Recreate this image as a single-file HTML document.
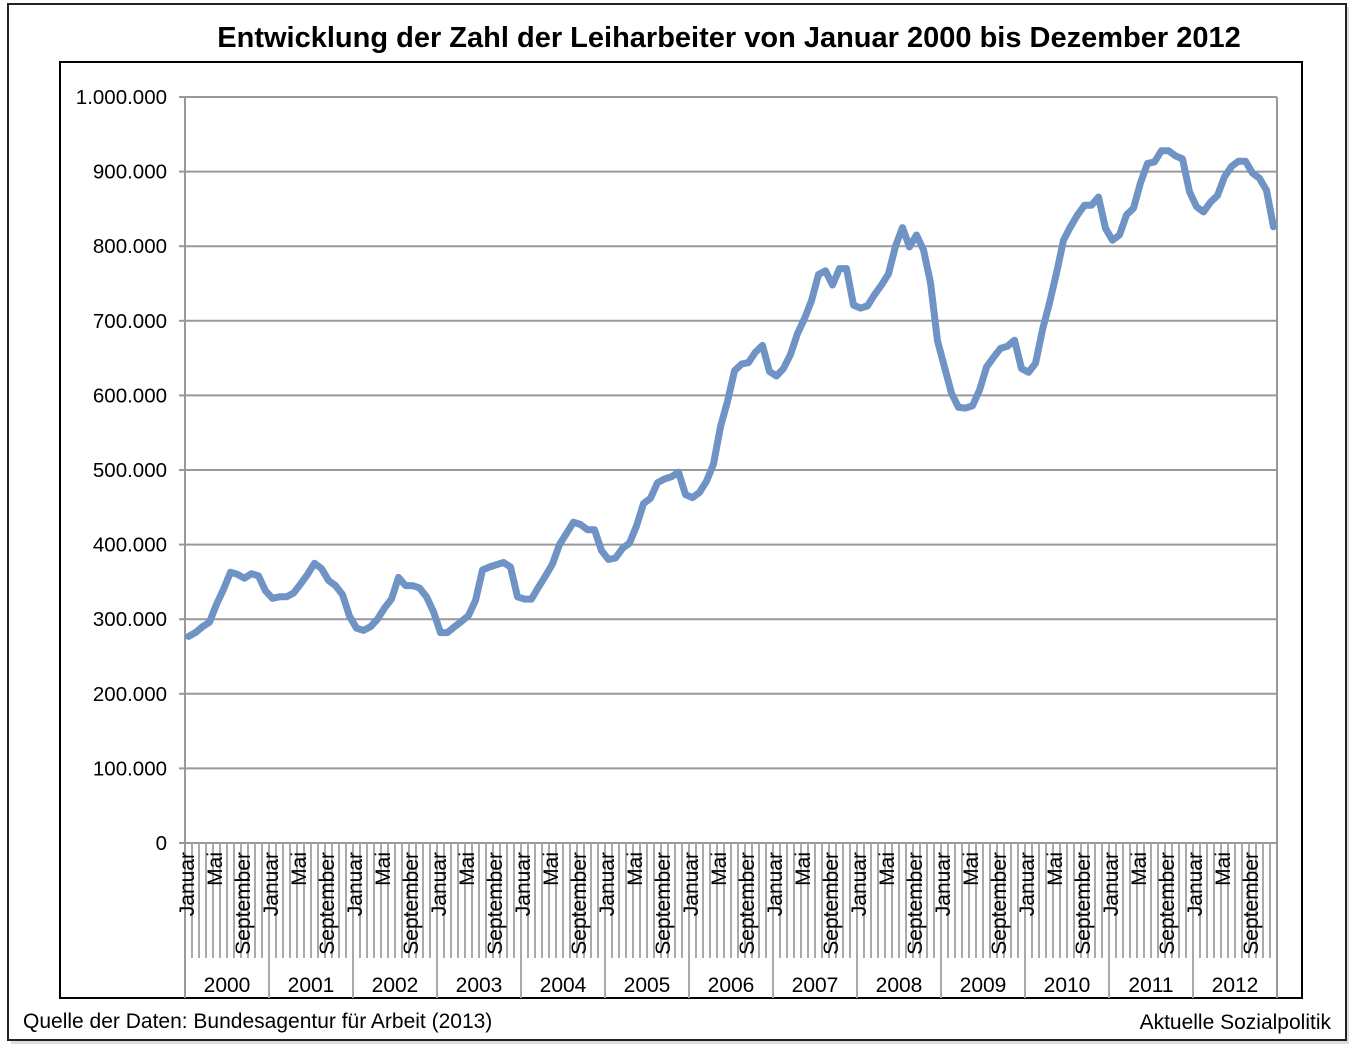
<!DOCTYPE html>
<html><head><meta charset="utf-8"><style>
body{margin:0;background:#fff;}
svg text{font-family:"Liberation Sans",sans-serif;}
</style></head><body>
<svg id="chart" width="1354" height="1052" xmlns="http://www.w3.org/2000/svg">
<rect x="11" y="7" width="1338" height="1037" fill="#ddd"/>
<rect x="8" y="4" width="1338" height="1036" fill="#fff" stroke="#222" stroke-width="2"/>
<text x="729" y="47" text-anchor="middle" font-size="29" font-weight="bold">Entwicklung der Zahl der Leiharbeiter von Januar 2000 bis Dezember 2012</text>
<rect x="60" y="62" width="1242" height="936" fill="#fff" stroke="#000" stroke-width="2"/>
<g id="grid"></g>
<g id="cats"></g>
<g id="ylab"></g>
<polyline id="line" fill="none" stroke="#6f93c4" stroke-width="7" stroke-linejoin="round" stroke-linecap="round"/>
<text x="23" y="1028" font-size="21">Quelle der Daten: Bundesagentur für Arbeit (2013)</text>
<text x="1331" y="1029" font-size="21" text-anchor="end">Aktuelle Sozialpolitik</text>
</svg>
<script>
const years = ["2000","2001","2002","2003","2004","2005","2006","2007","2008","2009","2010","2011","2012"];
const yTicks = [0,100000,200000,300000,400000,500000,600000,700000,800000,900000,1000000];
const yTickLabels = ["0","100.000","200.000","300.000","400.000","500.000","600.000","700.000","800.000","900.000","1.000.000"];
const values = [
277,282,290,296,320,340,363,360,355,361,358,338,
328,330,330,335,347,360,375,368,352,345,333,304,
288,285,290,300,315,327,356,345,345,342,330,310,
282,282,290,297,305,325,366,370,373,376,370,330,
327,327,343,358,374,400,415,430,427,420,420,392,
380,382,395,402,425,455,462,483,488,491,497,467,
463,470,485,508,558,592,633,642,644,658,667,632,
626,636,655,683,703,727,762,767,748,770,770,721,
717,720,735,748,763,800,825,799,815,795,751,673,
638,603,584,583,586,607,638,651,663,666,674,636,
631,643,688,724,764,808,826,842,855,855,866,824,
808,815,842,851,885,911,913,928,928,921,917,873,
853,846,859,868,893,907,914,914,898,891,875,826
].map(v=>v*1000);
const X0=185, X1=1277, Y0=843, Y1=97, N=values.length;
const mw=(X1-X0)/N;
const xs=i=>X0+mw*(i+0.5);
const ys=v=>Y0-(v/1000000)*(Y0-Y1);
const NS="http://www.w3.org/2000/svg";
function mk(tag,attrs,parent,txt){const e=document.createElementNS(NS,tag);for(const k in attrs)e.setAttribute(k,attrs[k]);if(txt!==undefined)e.textContent=txt;parent.appendChild(e);return e;}
const grid=document.getElementById('grid'), ylab=document.getElementById('ylab'), cats=document.getElementById('cats');
yTicks.forEach((t,k)=>{
  const y=ys(t);
  if(t>0){const g=mk('line',{x1:X0,x2:X1,y1:y,y2:y,stroke:'#999','stroke-width':2},grid);
  
  }
  const tk=mk('line',{x1:179,x2:X0,y1:y,y2:y,stroke:'#999','stroke-width':2},grid);
  
  
  const l=mk('text',{x:167,y:y+7,'text-anchor':'end','font-size':20.5},ylab,yTickLabels[k]);
  
  
});
const ax=mk('line',{x1:X0,x2:X0,y1:Y1,y2:998,stroke:'#999','stroke-width':2},grid);


const rx=mk('line',{x1:X1,x2:X1,y1:Y1,y2:998,stroke:'#999','stroke-width':2},grid);


const bx=mk('line',{x1:X0,x2:X1,y1:Y0,y2:Y0,stroke:'#999','stroke-width':2},grid);


const monthNames={0:"Januar",4:"Mai",8:"September"};
for(let i=1;i<N;i++){
  const x=X0+mw*i;
  const yr=i%12===0;
  const ln=mk('line',{x1:x,x2:x,y1:Y0,y2:yr?998:958,stroke:'#aaa','stroke-width':2},cats);
  
  
}
for(let i=0;i<N;i++){
  const m=i%12;
  if(monthNames[m]){
    const x=X0+mw*i+mw+2;
    const t=mk('text',{x:x,y:852,'text-anchor':'end','font-size':21,transform:`rotate(-90 ${x} 852)`},cats,monthNames[m]);
    
    
  }
}
years.forEach((yname,k)=>{
  const x=X0+mw*12*(k+0.5);
  const t=mk('text',{x:x,y:992,'text-anchor':'middle','font-size':21},cats,yname);
  
  
});
document.getElementById('line').setAttribute('points',values.map((v,i)=>xs(i).toFixed(1)+','+ys(v).toFixed(1)).join(' '));
</script>
</body></html>
